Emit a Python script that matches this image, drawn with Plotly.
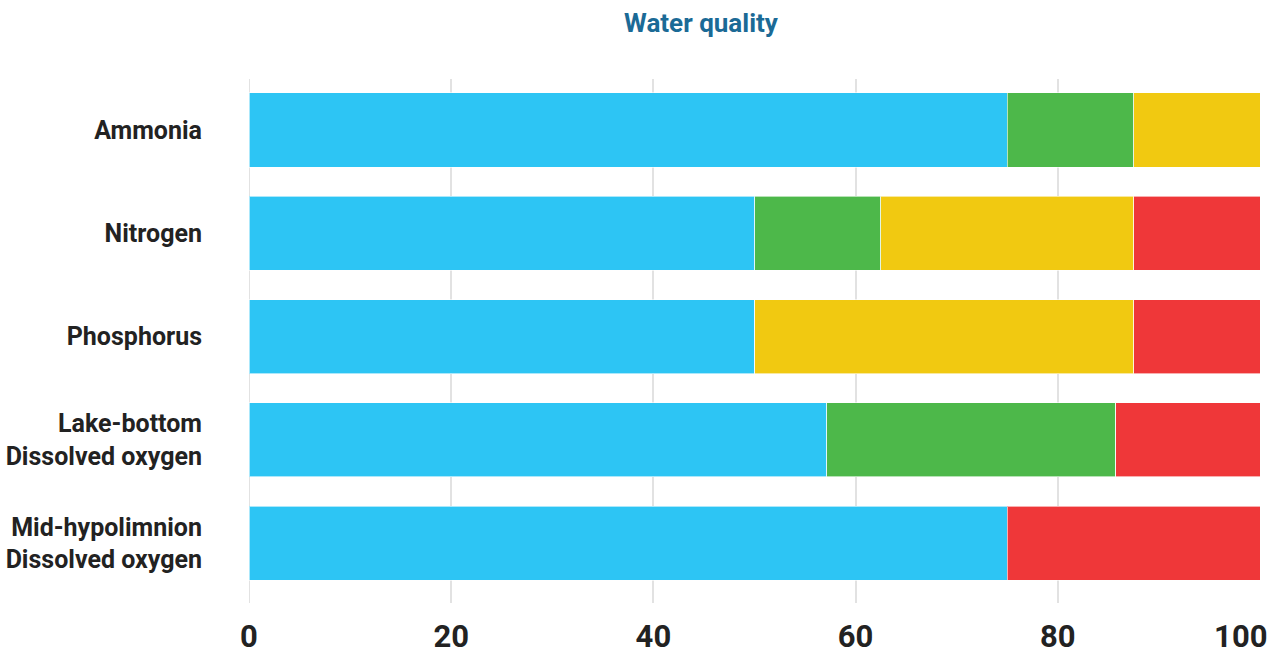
import plotly.graph_objects as go

categories = ["Ammonia", "Nitrogen", "Phosphorus",
              "Lake-bottom<br>Dissolved oxygen", "Mid-hypolimnion<br>Dissolved oxygen"]
blue_vals = [75, 50, 50, 57.14, 75]
green_vals = [12.5, 12.5, 0, 28.57, 0]
yellow_vals = [12.5, 25, 37.5, 0, 0]
red_vals = [0, 12.5, 12.5, 14.29, 25]
series_names = ["Series 1", "Series 2", "Series 3", "Series 4"]
x_ticks = [0, 20, 40, 60, 80, 100]
x_tick_labels = ["0", "20", "40", "60", "80", "100"]

colors = ["#2DC5F4", "#4DB84A", "#F1C911", "#EF3739"]
fig = go.Figure()
for name, vals, c in zip(series_names, [blue_vals, green_vals, yellow_vals, red_vals], colors):
    fig.add_trace(go.Bar(
        y=categories, x=vals, orientation="h", name=name,
        marker=dict(color=c, line=dict(color="rgba(255,255,255,0.6)", width=1)),
        hoverinfo="x+y+name",
    ))

# last tick label is pulled inward (as in the reference) so it stays inside the page
ticktext = [f"<b>{t}</b>" for t in x_tick_labels]
ticktext[-1] = ticktext[-1] + "&nbsp;" * 5

fig.update_layout(
    barmode="stack",
    bargap=0.283,
    showlegend=False,
    width=1275, height=655,
    margin=dict(l=249, r=15, t=79, b=52),
    paper_bgcolor="white", plot_bgcolor="white",
    title=dict(text="<b>Water quality</b>", x=701/1275, xref="container", xanchor="center",
               y=1 - 23/655, yref="container", yanchor="middle",
               font=dict(family="Roboto", size=26, color="#1B6A96")),
    xaxis=dict(range=[0, 100], tickvals=x_ticks, ticktext=ticktext,
               showgrid=True, gridcolor="#E2E2E2", gridwidth=2, automargin=False,
               zeroline=False, showline=False, ticks="", ticklabelstandoff=12,
               ticklabeloverflow="allow",
               tickfont=dict(family="Roboto", size=31, color="#222222")),
    yaxis=dict(categoryorder="array", categoryarray=categories,
               range=[4.58, -0.494], showgrid=False, zeroline=False, showline=False,
               ticks="", ticklabelstandoff=46, automargin=False,
               tickvals=categories, ticktext=[f"<b>{c}</b>" for c in categories],
               tickfont=dict(family="Roboto", size=25, color="#222222")),
)
fig.add_shape(type="line", xref="x", yref="paper", x0=0, x1=0, y0=0, y1=1,
              line=dict(color="#E2E2E2", width=2), layer="below")
fig.write_html("out.html")
